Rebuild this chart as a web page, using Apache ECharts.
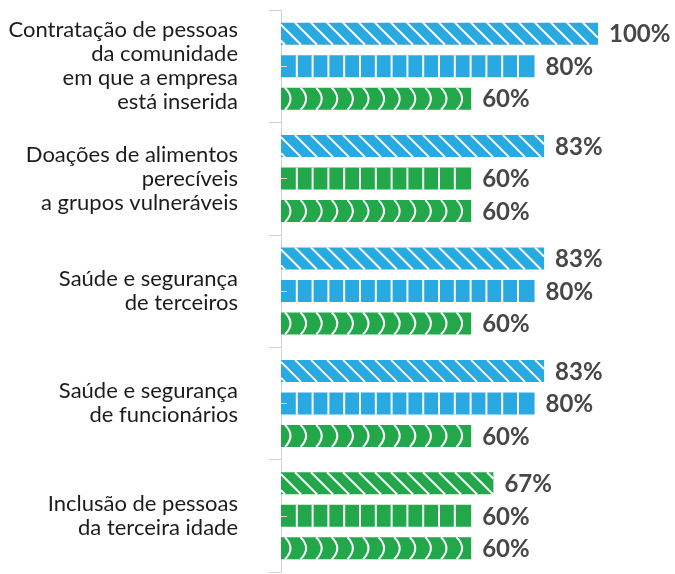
<!DOCTYPE html>
<html>
<head>
<meta charset="utf-8">
<script src="https://cdn.jsdelivr.net/npm/echarts@6/dist/echarts.min.js"></script>
<style>
  html, body { margin: 0; padding: 0; background: #ffffff; }
  #chart { width: 675px; height: 574px; }
</style>
</head>
<body>
<div id="chart"></div>
<script>
// Categories (top to bottom)
const categories = [
  'Contratação de pessoas\nda comunidade\nem que a empresa\nestá inserida',
  'Doações de alimentos\nperecíveis\na grupos vulneráveis',
  'Saúde e segurança\nde terceiros',
  'Saúde e segurança\nde funcionários',
  'Inclusão de pessoas\nda terceira idade'
];
// Three bars per category, in percent
const stripedValues = [100, 83, 83, 83, 67];  // diagonal hatch
const columnValues  = [80, 60, 80, 80, 60];   // vertical divisions
const arcValues     = [60, 60, 60, 60, 60];   // curved divisions

const BLUE = '#29a9e1';
const GREEN = '#22a74b';
const BAR_H = 22;
const PITCH = 32.5;

const rows = [];
[stripedValues, columnValues, arcValues].forEach(function (arr, s) {
  arr.forEach(function (v, g) { rows.push([v, g, s]); });
});

function line(ax, ay, bx, by) {
  return { type: 'line', shape: { x1: ax, y1: ay, x2: bx, y2: by },
           style: { stroke: '#ffffff', lineWidth: 2 } };
}

function renderBar(params, api) {
  const v = api.value(0), g = api.value(1), s = api.value(2);
  const p0 = api.coord([0, g]);
  const p1 = api.coord([v, g]);
  const x0 = p0[0], x1 = p1[0];
  const yc = p0[1] + (s - 1) * PITCH;
  const y0 = yc - BAR_H / 2, y1 = yc + BAR_H / 2;
  const fill = v >= 80 ? BLUE : GREEN;
  const children = [{ type: 'rect', shape: { x: x0, y: y0, width: x1 - x0, height: BAR_H },
                      style: { fill: fill } }];
  if (s === 0) {
    // "\" hatch at 45 degrees, clipped to the bar
    for (let xt = x0 - BAR_H + 4; xt < x1; xt += 16) {
      let ax = xt, ay = y0, bx = xt + BAR_H, by = y1;
      if (ax < x0) { ay = y0 + (x0 - ax); ax = x0; }
      if (bx > x1) { by = y1 - (bx - x1); bx = x1; }
      if (bx > ax) children.push(line(ax, ay, bx, by));
    }
  } else if (s === 1) {
    for (let x = x0 + 15.8; x < x1 - 3; x += 15.8) {
      children.push(line(x, y0, x, y1));
    }
  } else {
    for (let x = x0 + 4; x + 6 < x1; x += 15.6) {
      children.push({ type: 'bezierCurve',
        shape: { x1: x, y1: y0, x2: x, y2: y1, cpx1: x + 11, cpy1: yc },
        style: { stroke: '#ffffff', lineWidth: 2, fill: null } });
    }
  }
  children.push({ type: 'text', x: x1 + 11, y: yc + 1,
    style: { text: v + '%', fill: '#474747', font: 'bold 24px Lato',
             align: 'left', verticalAlign: 'middle' } });
  return { type: 'group', children: children };
}

const chart = echarts.init(document.getElementById('chart'), null, { renderer: 'canvas' });
chart.setOption({
  animation: false,
  backgroundColor: '#ffffff',
  grid: { left: 281, right: 77, top: 10, bottom: 2 },
  xAxis: { type: 'value', min: 0, max: 100, show: false },
  yAxis: [{
    type: 'category', data: categories, inverse: true, position: 'left',
    axisLine: { show: true, lineStyle: { color: '#d3d3d3', width: 1 } },
    axisTick: { show: true, length: 12, lineStyle: { color: '#d3d3d3' } },
    axisLabel: { margin: 43, fontFamily: 'Lato', fontWeight: 'normal', fontSize: 22,
                 lineHeight: 24, color: '#1c1c1c', align: 'right' },
    splitLine: { show: false }
  }, {
    type: 'category', data: categories, inverse: true, position: 'left', z: 5,
    axisLine: { show: false },
    axisTick: { show: true, inside: true, alignWithLabel: true, length: 6,
                lineStyle: { color: '#d8d8d8' } },
    axisLabel: { show: false },
    splitLine: { show: false }
  }],
  series: [{
    type: 'custom',
    renderItem: renderBar,
    encode: { x: 0, y: 1 },
    data: rows,
    clip: false
  }]
});
</script>
</body>
</html>
